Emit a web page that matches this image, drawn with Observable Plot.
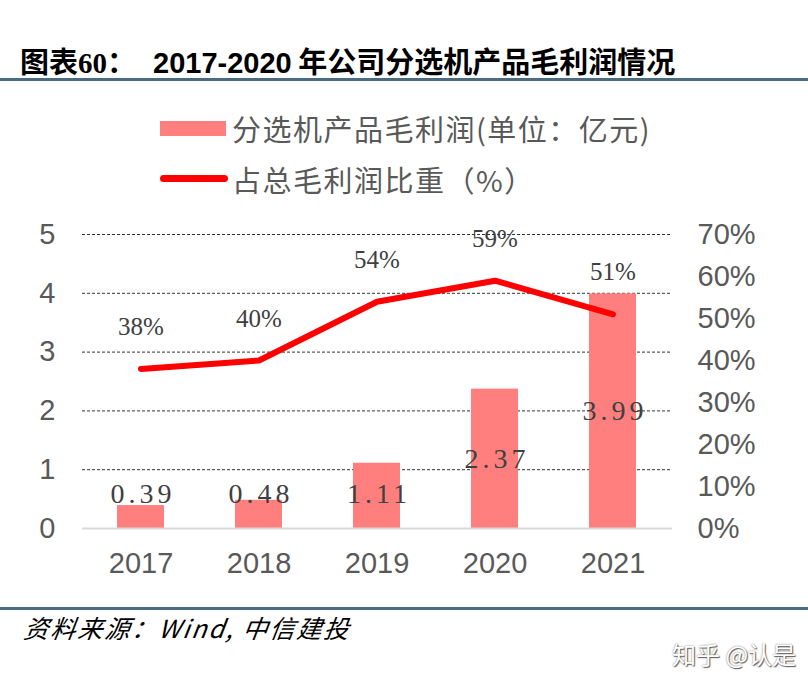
<!DOCTYPE html>
<html><head><meta charset="utf-8">
<script src="https://cdn.jsdelivr.net/npm/d3@7"></script>
<script src="https://cdn.jsdelivr.net/npm/@observablehq/plot@0.6"></script>
<style>
body{margin:0;background:#fff;width:808px;height:681px;overflow:hidden;font-family:"Noto Sans CJK SC",sans-serif}
#wrap{position:relative;width:808px;height:681px;background:#fff}
.abs{position:absolute;white-space:nowrap}
#chart{position:absolute;left:0;top:200px}
</style></head><body><div id="wrap">
<div class="abs" style="left:20px;top:40px;font-size:29px;font-weight:bold;line-height:40px;color:#000">图表<span style="font-family:'Liberation Serif',serif;font-weight:bold">60</span>：</div>
<div class="abs" style="left:153px;top:40px;font-size:29px;font-weight:bold;line-height:40px;color:#000"><span style="font-family:'Liberation Sans Narrow','Liberation Sans',sans-serif">2017-2020</span> 年公司分选机产品毛利润情况</div>
<div class="abs" style="left:0;top:78px;width:808px;height:3px;background:#4a6b80"></div>
<div class="abs" style="left:160px;top:121px;width:66px;height:15px;background:#ff7f7f"></div>
<div class="abs" id="leg1" style="left:232px;top:108px;font-size:29px;letter-spacing:1.5px;line-height:40px;color:#595959"></div>
<div class="abs" style="left:160px;top:175px;width:68px;height:7px;border-radius:4px;background:#ff0000"></div>
<div class="abs" id="leg2" style="left:232px;top:159px;font-size:29px;letter-spacing:1.5px;line-height:40px;color:#595959"></div>
<div id="chart"></div>
<div class="abs" style="left:0;top:607px;width:808px;height:3px;background:#4a6b80"></div>
<div class="abs" style="left:22px;top:611px;font-size:25px;letter-spacing:2px;line-height:32px;font-style:italic;color:#000;transform:skewX(-8deg);transform-origin:left bottom">资料来源：Wind, 中信建投</div>
<div class="abs" style="left:672px;top:638px;font-size:24px;line-height:32px;color:#fff;text-shadow:0 0 2px #777,1px 1px 1px #555">知乎 @认是</div>
</div>
<script>
const years = ["2017", "2018", "2019", "2020", "2021"];
const profit = [0.39, 0.48, 1.11, 2.37, 3.99];      // 亿元
const share = [38, 40, 54, 59, 51];                  // %
const leftTicks = [0, 1, 2, 3, 4, 5];
const rightTicks = [0, 10, 20, 30, 40, 50, 60, 70];
const leftMax = 5, rightMax = 70;
const legendBar = "分选机产品毛利润(单位：亿元)";
const legendLine = "占总毛利润比重（%）";

document.getElementById("leg1").textContent = legendBar;
document.getElementById("leg2").textContent = legendLine;

const toLeft = p => p / rightMax * leftMax;
const rows = years.map((y, i) => ({
  year: y,
  profit: profit[i],
  share: share[i],
  shareY: toLeft(share[i]),
  labelY: Math.max(profit[i] / 2, 0.58)
}));

const numFont = "'Liberation Serif','DejaVu Serif',serif";
const axisFont = "'Liberation Sans',Arial,sans-serif";

const chart = Plot.plot({
  width: 808,
  height: 390,
  marginTop: 34,
  marginBottom: 62,
  marginLeft: 82,
  marginRight: 136,
  style: {background: "transparent", overflow: "visible"},
  x: {type: "band", domain: years, paddingInner: 0.6, paddingOuter: 0.3, label: null},
  y: {domain: [0, leftMax], label: null},
  marks: [
    Plot.ruleY(leftTicks.filter(d => d > 0), {stroke: "#333", strokeWidth: 1, strokeDasharray: "3,2"}),
    Plot.barY(rows, {x: "year", y: "profit", fill: "#ff7f7f"}),
    Plot.ruleY([0], {stroke: "#d9d9d9", strokeWidth: 2}),
    Plot.line(rows, {x: "year", y: "shareY", stroke: "#ff0000", strokeWidth: 6, strokeLinecap: "round", strokeLinejoin: "round"}),
    Plot.text(rows, {x: "year", y: "labelY", text: d => d3.format(".2f")(d.profit), fontSize: 28, fontFamily: numFont, fill: "#404040", dx: 2}),
    Plot.text(rows, {x: "year", y: "shareY", text: d => d.share + "%", dy: -42, fontSize: 25, fontFamily: numFont, fill: "#404040"}),
    Plot.axisY(leftTicks, {anchor: "left", tickSize: 0, tickPadding: 27, fontSize: 29, fontFamily: axisFont, color: "#595959", label: null, tickFormat: d => String(d)}),
    Plot.axisY(rightTicks.map(toLeft), {anchor: "right", tickSize: 0, tickPadding: 25, fontSize: 29, fontFamily: axisFont, color: "#595959", label: null, tickFormat: d => Math.round(d / leftMax * rightMax) + "%"}),
    Plot.axisX({tickSize: 0, tickPadding: 24, fontSize: 29, fontFamily: axisFont, color: "#595959", label: null})
  ]
});
// widen the bar value labels like the reference's wide-dot serif digits
const textGroups = chart.querySelectorAll('g[aria-label="text"]');
if (textGroups.length) textGroups[0].style.letterSpacing = "4px";
document.getElementById("chart").appendChild(chart);
</script>
</body></html>
